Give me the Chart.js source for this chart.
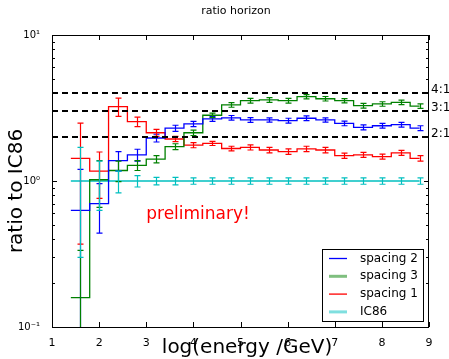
<!DOCTYPE html>
<html>
<head>
<meta charset="utf-8">
<script src="https://cdn.jsdelivr.net/npm/chart.js"></script>
<style>
  body { margin: 0; background: #fff; }
  #wrap { width: 449px; height: 359px; position: relative; }
</style>
</head>
<body>
<div id="wrap"><canvas id="ratioChart"></canvas></div>
<script>
// bin centres in log(energy/GeV), bins are 0.4 wide
const binCenters = [1.6, 2.0, 2.4, 2.8, 3.2, 3.6, 4.0, 4.4, 4.8, 5.2, 5.6, 6.0, 6.4, 6.8, 7.2, 7.6, 8.0, 8.4, 8.8];

const spacing2 = [0.63, 0.70, 1.38, 1.51, 1.97, 2.30, 2.46, 2.66, 2.71, 2.62, 2.62, 2.59, 2.69, 2.62, 2.48, 2.33, 2.39, 2.43, 2.30];
const spacing2Err = [0.57, 0.26, 0.21, 0.14, 0.12, 0.11, 0.10, 0.10, 0.10, 0.10, 0.09, 0.10, 0.10, 0.09, 0.09, 0.09, 0.09, 0.09, 0.09];

const spacing3 = [0.159, 1.02, 1.18, 1.28, 1.41, 1.72, 2.14, 2.82, 3.32, 3.55, 3.59, 3.55, 3.78, 3.66, 3.55, 3.28, 3.37, 3.46, 3.26];
const spacing3Err = [0.176, 0.36, 0.19, 0.10, 0.08, 0.08, 0.09, 0.10, 0.12, 0.13, 0.13, 0.13, 0.13, 0.13, 0.12, 0.12, 0.12, 0.12, 0.12];

const spacing1 = [1.43, 1.17, 3.23, 2.55, 2.14, 1.94, 1.76, 1.81, 1.67, 1.70, 1.63, 1.59, 1.66, 1.63, 1.49, 1.51, 1.47, 1.56, 1.43];
const spacing1Err = [1.06, 0.41, 0.46, 0.19, 0.12, 0.08, 0.07, 0.06, 0.06, 0.07, 0.07, 0.07, 0.07, 0.07, 0.06, 0.06, 0.06, 0.06, 0.06];

const ic86 = [1, 1, 1, 1, 1, 1, 1, 1, 1, 1, 1, 1, 1, 1, 1, 1, 1, 1, 1];
const ic86Err = [0.70, 0.37, 0.17, 0.09, 0.06, 0.06, 0.05, 0.05, 0.05, 0.05, 0.05, 0.05, 0.05, 0.05, 0.05, 0.05, 0.05, 0.05, 0.05];

const ratioLines = [4, 3, 2];
const ratioLabels = ['4:1', '3:1', '2:1'];
const xTicks = [1, 2, 3, 4, 5, 6, 7, 8, 9];

const FONT = "'DejaVu Sans', sans-serif";

// step points: left edge of every bin, last one held to the last centre
function steps(values) {
  const pts = binCenters.map((c, i) => ({ x: c - 0.2, y: values[i] }));
  pts.push({ x: binCenters[binCenters.length - 1], y: values[values.length - 1] });
  return pts;
}

const series = [
  { label: 'spacing 2', data: spacing2, err: spacing2Err, color: '#0000ff', width: 1.3, legendColor: '#0000ff', legendWidth: 1.3 },
  { label: 'spacing 3', data: spacing3, err: spacing3Err, color: '#008000', width: 1.3, legendColor: '#7fbf7f', legendWidth: 3 },
  { label: 'spacing 1', data: spacing1, err: spacing1Err, color: '#ff0000', width: 1.3, legendColor: '#ff0000', legendWidth: 1.3 },
  { label: 'IC86', data: ic86, err: ic86Err, color: '#00bfbf', width: 1.3, legendColor: '#7fdfdf', legendWidth: 3 }
];

const decorations = {
  id: 'decorations',
  afterDatasetsDraw(chart) {
    const ctx = chart.ctx;
    const a = chart.chartArea;
    const xs = chart.scales.x, ys = chart.scales.y;

    // error bars
    ctx.save();
    ctx.beginPath();
    ctx.rect(a.left, a.top, a.right - a.left, a.bottom - a.top);
    ctx.clip();
    series.forEach(s => {
      ctx.strokeStyle = s.color;
      ctx.lineWidth = 1.2;
      binCenters.forEach((c, i) => {
        const px = Math.round(xs.getPixelForValue(c)) + 0.5;
        const hi = s.data[i] + s.err[i];
        const lo = s.data[i] - s.err[i];
        const pyHi = ys.getPixelForValue(hi);
        const pyLo = lo > 0 ? ys.getPixelForValue(lo) : a.bottom + 20;
        ctx.beginPath();
        ctx.moveTo(px, pyHi);
        ctx.lineTo(px, pyLo);
        ctx.moveTo(px - 3, pyHi);
        ctx.lineTo(px + 3, pyHi);
        if (lo > 0) {
          ctx.moveTo(px - 3, pyLo);
          ctx.lineTo(px + 3, pyLo);
        }
        ctx.stroke();
      });
    });

    // ratio guide lines
    ctx.strokeStyle = '#000';
    ctx.lineWidth = 2;
    ctx.setLineDash([6, 4]);
    ratioLines.forEach(v => {
      const py = Math.round(ys.getPixelForValue(v));
      ctx.beginPath();
      ctx.moveTo(a.left, py);
      ctx.lineTo(a.right, py);
      ctx.stroke();
    });
    ctx.restore();

    // frame
    ctx.save();
    ctx.strokeStyle = '#000';
    ctx.lineWidth = 1;
    ctx.strokeRect(a.left + 0.5, a.top + 0.5, a.right - a.left - 1, a.bottom - a.top);

    // inward ticks
    ctx.beginPath();
    xTicks.forEach(v => {
      const px = Math.round(xs.getPixelForValue(v)) + 0.5;
      ctx.moveTo(px, a.bottom); ctx.lineTo(px, a.bottom - 5);
      ctx.moveTo(px, a.top); ctx.lineTo(px, a.top + 5);
    });
    [0.1, 1, 10].forEach(v => {
      const py = Math.round(ys.getPixelForValue(v)) + 0.5;
      ctx.moveTo(a.left, py); ctx.lineTo(a.left + 5, py);
      ctx.moveTo(a.right, py); ctx.lineTo(a.right - 5, py);
    });
    [0.1, 1].forEach(d => {
      for (let k = 2; k <= 9; k++) {
        const py = Math.round(ys.getPixelForValue(d * k)) + 0.5;
        ctx.moveTo(a.left, py); ctx.lineTo(a.left + 3, py);
        ctx.moveTo(a.right, py); ctx.lineTo(a.right - 3, py);
      }
    });
    ctx.stroke();

    // texts
    ctx.fillStyle = '#000';
    ctx.textBaseline = 'middle';
    ctx.textAlign = 'left';
    ctx.font = '12px ' + FONT;
    ratioLines.forEach((v, i) => {
      ctx.fillText(ratioLabels[i], a.right + 2, ys.getPixelForValue(v) - 3);
    });

    ctx.textAlign = 'center';
    ctx.font = '11px ' + FONT;
    ctx.fillText('ratio horizon', 236, 11);

    ctx.font = '20px ' + FONT;
    ctx.fillText('log(energy /GeV)', 247, 348);

    ctx.save();
    ctx.translate(17, 191);
    ctx.rotate(-Math.PI / 2);
    ctx.fillText('ratio to IC86', 0, 0);
    ctx.restore();

    ctx.fillStyle = '#ff0000';
    ctx.textAlign = 'left';
    ctx.font = '17px ' + FONT;
    ctx.fillText('preliminary!', xs.getPixelForValue(3.0), ys.getPixelForValue(0.585));

    // legend
    const lx = 322, ly = 249, lw = 101, lh = 72;
    ctx.fillStyle = '#fff';
    ctx.fillRect(lx, ly, lw, lh);
    ctx.strokeStyle = '#000';
    ctx.lineWidth = 1;
    ctx.strokeRect(lx + 0.5, ly + 0.5, lw, lh);
    ctx.font = '12px ' + FONT;
    series.forEach((s, i) => {
      const yy = ly + 9.5 + i * 17.8;
      ctx.strokeStyle = s.legendColor;
      ctx.lineWidth = s.legendWidth;
      ctx.beginPath();
      ctx.moveTo(329, yy);
      ctx.lineTo(347, yy);
      ctx.stroke();
      ctx.fillStyle = '#000';
      ctx.fillText(s.label, 360, yy);
    });
    ctx.restore();
  }
};

new Chart(document.getElementById('ratioChart').getContext('2d'), {
  type: 'line',
  data: {
    datasets: series.map(s => ({
      label: s.label,
      data: steps(s.data),
      borderColor: s.color,
      borderWidth: s.width,
      stepped: true,
      pointRadius: 0,
      fill: false
    }))
  },
  options: {
    responsive: true,
    maintainAspectRatio: false,
    animation: false,
    layout: { padding: { top: 35, right: 20, left: 0, bottom: 0 } },
    scales: {
      x: {
        type: 'linear',
        min: 1,
        max: 9,
        afterFit: s => { s.height = 32; },
        grid: { display: false },
        border: { display: false },
        ticks: {
          stepSize: 1,
          padding: 2,
          color: '#000',
          font: { family: FONT, size: 11 }
        }
      },
      y: {
        type: 'logarithmic',
        min: 0.1,
        max: 10,
        afterFit: s => { s.width = 52; },
        grid: { display: false },
        border: { display: false },
        ticks: {
          autoSkip: false,
          padding: 4,
          color: '#000',
          font: { family: FONT, size: 10 },
          callback: v => (v === 10 ? '10\u00b9' : v === 1 ? '10\u2070' : Math.abs(v - 0.1) < 1e-9 ? '10\u207b\u00b9' : '')
        }
      }
    },
    plugins: {
      legend: { display: false },
      tooltip: { enabled: false }
    }
  },
  plugins: [decorations]
});
</script>
</body>
</html>
